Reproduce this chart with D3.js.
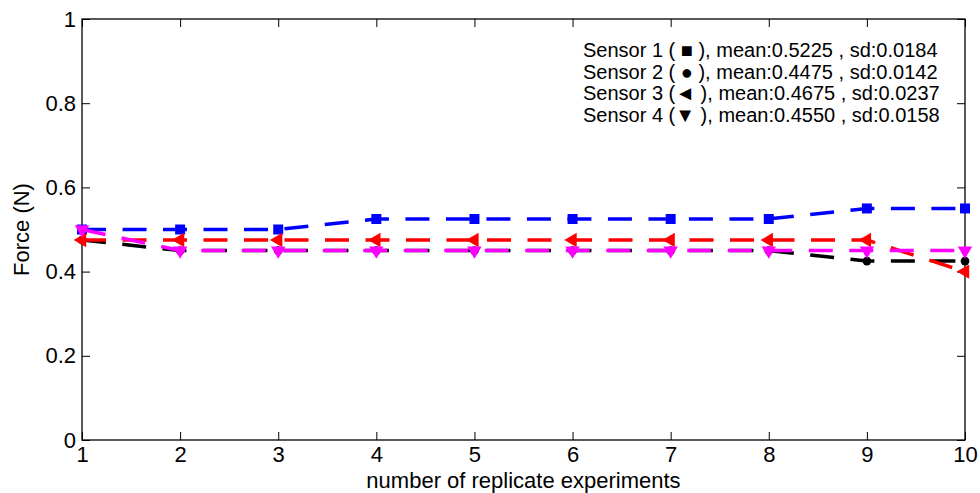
<!DOCTYPE html>
<meta charset="utf-8">
<style>
body { margin: 0; background: white; }
text { font-family: "Liberation Sans", Arial, sans-serif; fill: black; }
.axis path { display: none; }
.axis line { stroke: black; stroke-width: 1px; }
.axis text { font-size: 22px; }
</style>
<body>
<script src="https://d3js.org/d3.v7.min.js"></script>
<script>
var width = 980,
    height = 493;

// data
var replicates = [1, 2, 3, 4, 5, 6, 7, 8, 9, 10];
var sensor1 = [0.5, 0.5, 0.5, 0.525, 0.525, 0.525, 0.525, 0.525, 0.55, 0.55];
var sensor2 = [0.475, 0.45, 0.45, 0.45, 0.45, 0.45, 0.45, 0.45, 0.425, 0.425];
var sensor3 = [0.475, 0.475, 0.475, 0.475, 0.475, 0.475, 0.475, 0.475, 0.475, 0.4];
var sensor4 = [0.5, 0.45, 0.45, 0.45, 0.45, 0.45, 0.45, 0.45, 0.45, 0.45];
var yTicks = [0, 0.2, 0.4, 0.6, 0.8, 1];
var yTickLabels = ["0", "0.2", "0.4", "0.6", "0.8", "1"];
var legendLabels = [
  "Sensor 1 ( \u25A0 ), mean:0.5225 , sd:0.0184",
  "Sensor 2 ( \u25CF ), mean:0.4475 , sd:0.0142",
  "Sensor 3 (\u25C4 ), mean:0.4675 , sd:0.0237",
  "Sensor 4 (\u25BC ), mean:0.4550 , sd:0.0158"
];

var series = [
  {values: sensor1, color: "#0000ff", symbol: d3.symbolSquare, size: 100, rot: 0},
  {values: sensor2, color: "#000000", symbol: d3.symbolCircle, size: 60, rot: 0},
  {values: sensor3, color: "#ff0000", symbol: d3.symbolTriangle, size: 90, rot: -90},
  {values: sensor4, color: "#ff00ff", symbol: d3.symbolTriangle, size: 90, rot: 180}
];

var margin = {left: 82, right: 15, top: 19, bottom: 53};
var iw = width - margin.left - margin.right,
    ih = height - margin.top - margin.bottom;

var svg = d3.select("body").append("svg")
    .attr("width", width)
    .attr("height", height);

var g = svg.append("g")
    .attr("transform", "translate(" + margin.left + "," + margin.top + ")");

var x = d3.scaleLinear().domain([1, 10]).range([0, iw]);
var y = d3.scaleLinear().domain([0, 1]).range([ih, 0]);

// axes, ticks pointing inwards like matlab
g.append("g").attr("class", "axis")
    .attr("transform", "translate(0," + ih + ")")
    .call(d3.axisBottom(x).tickValues(replicates).tickFormat(d3.format("d"))
      .tickSizeInner(-8).tickSizeOuter(0).tickPadding(6));
g.append("g").attr("class", "axis")
    .call(d3.axisTop(x).tickValues(replicates).tickFormat("")
      .tickSizeInner(-8).tickSizeOuter(0));
g.append("g").attr("class", "axis")
    .call(d3.axisLeft(y).tickValues(yTicks).tickFormat(function(d, i) { return yTickLabels[i]; })
      .tickSizeInner(-8).tickSizeOuter(0).tickPadding(6));
g.append("g").attr("class", "axis")
    .attr("transform", "translate(" + iw + ",0)")
    .call(d3.axisRight(y).tickValues(yTicks).tickFormat("")
      .tickSizeInner(-8).tickSizeOuter(0));

g.append("rect")
    .attr("width", iw)
    .attr("height", ih)
    .style("fill", "none")
    .style("stroke", "black")
    .style("stroke-width", 1.3);

var line = d3.line()
    .x(function(d, i) { return x(replicates[i]); })
    .y(function(d) { return y(d); });

series.forEach(function(s) {
  var sg = g.append("g");
  sg.append("path")
      .datum(s.values)
      .attr("d", line)
      .style("fill", "none")
      .style("stroke", s.color)
      .style("stroke-width", 3.5)
      .style("stroke-dasharray", "24,16.5");
  sg.selectAll("path.mark")
      .data(s.values)
      .enter().append("path")
      .attr("class", "mark")
      .attr("d", d3.symbol().type(s.symbol).size(s.size))
      .attr("transform", function(d, i) {
        return "translate(" + x(replicates[i]) + "," + y(d) + ") rotate(" + s.rot + ")";
      })
      .style("fill", s.color);
});

// legend text, no box
svg.append("g").selectAll("text")
    .data(legendLabels)
    .enter().append("text")
    .attr("x", 583)
    .attr("y", function(d, i) { return 57 + i * 21.5; })
    .style("font-size", "20px")
    .text(function(d) { return d; });

svg.append("text")
    .attr("x", margin.left + iw / 2)
    .attr("y", 488)
    .attr("text-anchor", "middle")
    .style("font-size", "22px")
    .text("number of replicate experiments");

svg.append("text")
    .attr("transform", "translate(29," + (margin.top + ih / 2) + ") rotate(-90)")
    .attr("text-anchor", "middle")
    .style("font-size", "22px")
    .text("Force (N)");
</script>
</body>
</html>
